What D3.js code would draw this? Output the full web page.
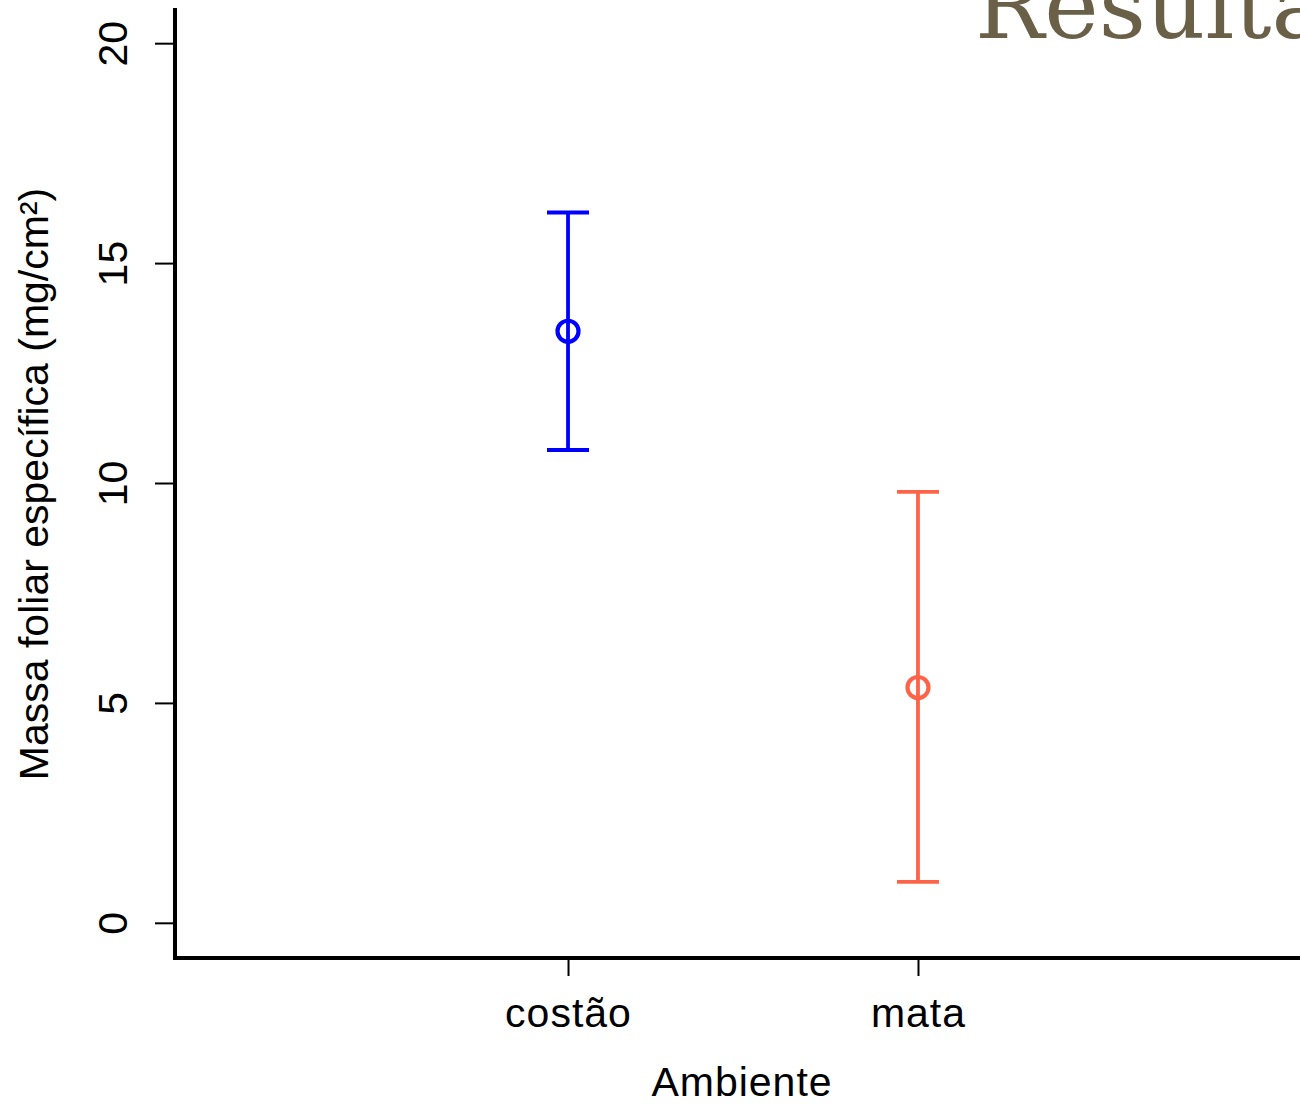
<!DOCTYPE html>
<html>
<head>
<meta charset="utf-8">
<script src="https://cdn.jsdelivr.net/npm/d3@7"></script>
<style>
  body { margin: 0; background: #fff; }
  svg { display: block; }
</style>
</head>
<body>
<svg></svg>
<script>
const categories = ['costão', 'mata'];
const means = [13.45, 5.35];
const lowers = [10.75, 0.93];
const uppers = [16.15, 9.8];
const colors = ['#0000ff', '#ff6347'];
const yTicks = [0, 5, 10, 15, 20];

const width = 1300;
const height = 1104;
const plotLeft = 175;
const plotBottom = 958;
const plotTop = 8;
const font = '"Liberation Sans", Arial, sans-serif';

const svg = d3.select('svg')
  .attr('width', width)
  .attr('height', height);

const xScale = d3.scalePoint()
  .domain(categories)
  .range([plotLeft, 1311])
  .padding(1.123);

const yScale = d3.scaleLinear()
  .domain([-0.8, 20.8])
  .range([plotBottom, plotTop]);

// slide title, cut by the right edge
svg.append('text')
  .attr('x', 975)
  .attr('y', 38)
  .style('font-family', '"DejaVu Serif", "Liberation Serif", serif')
  .style('font-size', '92px')
  .style('fill', '#6a5f47')
  .text('Resultados');

// y axis
const yAxis = d3.axisLeft(yScale)
  .tickValues(yTicks)
  .tickSize(20)
  .tickPadding(0)
  .tickFormat(d3.format('d'));

const gy = svg.append('g')
  .attr('transform', `translate(${plotLeft}, 0)`)
  .call(yAxis);
gy.select('.domain').remove();
gy.selectAll('.tick line').attr('stroke', '#000').attr('stroke-width', 2);
gy.selectAll('.tick text')
  .attr('x', 0)
  .attr('dy', 0)
  .attr('transform', 'translate(-62, 0) rotate(-90)')
  .attr('text-anchor', 'middle')
  .attr('dominant-baseline', 'central')
  .style('font-family', font)
  .style('font-size', '41px')
  .style('fill', '#000');

// x axis
const xAxis = d3.axisBottom(xScale)
  .tickSize(18)
  .tickPadding(22);

const gx = svg.append('g')
  .attr('transform', `translate(0, ${plotBottom})`)
  .call(xAxis);
gx.select('.domain').remove();
gx.selectAll('.tick line').attr('stroke', '#000').attr('stroke-width', 2);
gx.selectAll('.tick text')
  .style('font-family', font)
  .style('font-size', '41px')
  .style('letter-spacing', '1px')
  .style('fill', '#000');

// L-shaped box
svg.append('path')
  .attr('d', `M${plotLeft},${plotTop} L${plotLeft},${plotBottom} L${width + 5},${plotBottom}`)
  .attr('fill', 'none')
  .attr('stroke', '#000')
  .attr('stroke-width', 4);

// axis titles
svg.append('text')
  .attr('x', 742)
  .attr('y', 1096)
  .attr('text-anchor', 'middle')
  .style('font-family', font)
  .style('font-size', '41px')
  .style('letter-spacing', '1px')
  .text('Ambiente');

svg.append('text')
  .attr('transform', 'translate(48, 484) rotate(-90)')
  .attr('text-anchor', 'middle')
  .style('font-family', font)
  .style('font-size', '41px')
  .text('Massa foliar específica (mg/cm²)');

// error bars
const data = categories.map((c, i) => ({ c, mean: means[i], lo: lowers[i], hi: uppers[i], color: colors[i] }));
const capHalf = 21;

const bars = svg.selectAll('g.bar')
  .data(data)
  .enter()
  .append('g')
  .attr('class', 'bar')
  .attr('stroke', d => d.color)
  .attr('stroke-width', 3.8)
  .attr('fill', 'none');

bars.append('line')
  .attr('x1', d => xScale(d.c))
  .attr('x2', d => xScale(d.c))
  .attr('y1', d => yScale(d.lo))
  .attr('y2', d => yScale(d.hi));

bars.append('line')
  .attr('x1', d => xScale(d.c) - capHalf)
  .attr('x2', d => xScale(d.c) + capHalf)
  .attr('y1', d => yScale(d.hi))
  .attr('y2', d => yScale(d.hi));

bars.append('line')
  .attr('x1', d => xScale(d.c) - capHalf)
  .attr('x2', d => xScale(d.c) + capHalf)
  .attr('y1', d => yScale(d.lo))
  .attr('y2', d => yScale(d.lo));

bars.append('circle')
  .attr('cx', d => xScale(d.c))
  .attr('cy', d => yScale(d.mean))
  .attr('r', 10.5)
  .attr('stroke-width', 4.2);
</script>
</body>
</html>
